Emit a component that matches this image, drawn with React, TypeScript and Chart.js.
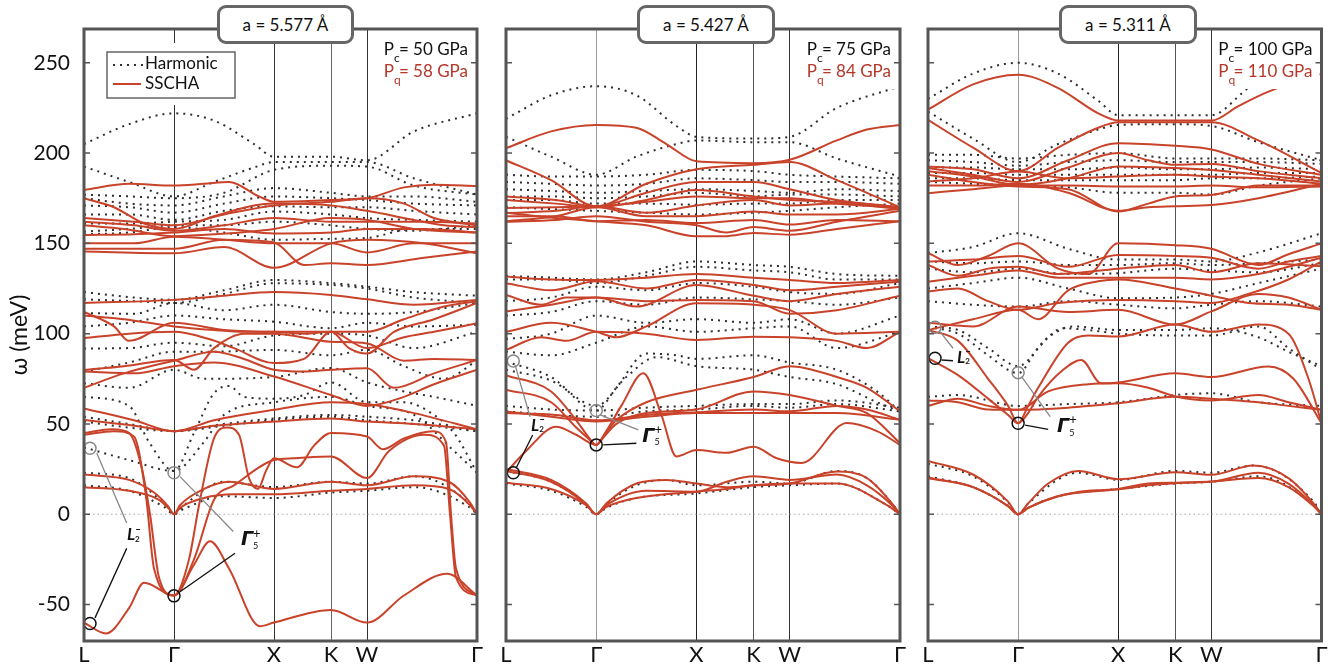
import React, { useEffect, useRef } from 'react';
import { Chart, registerables } from 'chart.js';
Chart.register(...registerables);

type Pt = [number, number];

const kPos = [0, 0.9, 1.9, 2.47, 2.83, 3.93];
const kLabels = ['L', 'Γ', 'X', 'K', 'W', 'Γ'];
const yTicks = [-50, 0, 50, 100, 150, 200, 250];
const yMin = -70.2;
const yMax = 268.7;

const latticeLabels = ['a = 5.577 Å', 'a = 5.427 Å', 'a = 5.311 Å'];
const pClassical = ['50', '75', '100'];
const pQuantum = ['58', '84', '110'];

// ---------------- Panel 1 (a = 5.577 Å) ----------------
const p1Sscha: Pt[][] = [
  [[0,179.6],[0.45,183],[0.9,182],[1.2,183],[1.45,184],[1.75,176],[1.9,173],[2.47,174],[2.83,175],[3.2,181],[3.5,182.5],[3.93,181.7]],
  [[0,175],[0.3,170],[0.6,161],[0.9,158],[1.3,165],[1.7,171],[1.9,172],[2.47,171],[2.83,168],[3.3,163],[3.6,160],[3.93,159]],
  [[0,164],[0.5,162],[0.9,160],[1.4,166],[1.9,171],[2.47,173],[2.83,175],[3.2,172],[3.5,164],[3.93,160]],
  [[0,162],[0.5,160],[0.9,157],[1.4,160],[1.9,164],[2.47,162],[2.83,162],[3.4,162],[3.93,161]],
  [[0,160],[0.4,158],[0.9,154],[1.3,155],[1.9,158],[2.47,164],[2.83,163],[3.3,158],[3.93,156]],
  [[0,154.6],[0.5,155],[0.9,156],[1.4,158],[1.9,155.5],[2.47,156],[2.83,158],[3.4,158],[3.93,156]],
  [[0,150],[0.5,150],[0.9,153.7],[1.4,152],[1.9,150],[2.47,150],[2.83,145],[3.3,150],[3.93,150]],
  [[0,145.5],[0.9,144.5],[1.4,148],[1.9,136.5],[2.47,150],[2.83,152],[3.4,150],[3.93,144.5]],
  [[0,147],[0.9,147],[1.4,152],[1.9,150.5],[2.2,138],[2.47,139],[2.83,138],[3.4,142],[3.93,145.5]],
  [[0,117],[0.9,118.7],[1.4,121],[1.9,123],[2.47,121.4],[2.83,119],[3.3,116],[3.93,118.7]],
  [[0,112],[0.3,104],[0.45,96],[0.9,106],[1.4,102],[1.9,101],[2.47,101],[2.83,101],[3.2,108],[3.6,115],[3.93,118]],
  [[0,110],[0.4,108],[0.9,104],[1.3,102],[1.6,101],[1.9,101],[2.2,100],[2.47,101],[2.83,92],[3.2,98],[3.5,101],[3.93,105.7]],
  [[0,97.5],[0.45,100],[0.9,101],[1.25,97],[1.5,92],[1.9,83.7],[2.2,86],[2.47,101],[2.65,92],[2.83,89],[3.1,101],[3.5,108],[3.93,117]],
  [[0,79.9],[0.4,82],[0.9,85.4],[1.1,80],[1.3,92],[1.6,100],[1.9,100],[2.47,95.5],[2.83,94.6],[3.2,85],[3.5,86],[3.93,85.4]],
  [[0,70],[0.4,78],[0.9,85],[1.3,90],[1.6,86],[1.9,80],[2.2,79],[2.47,80],[2.83,80.8],[3.1,70],[3.5,78],[3.93,85.4]],
  [[0,79],[0.5,78],[0.9,82],[1.3,84],[1.9,76.3],[2.47,66],[2.83,60],[3.2,65],[3.5,72],[3.93,80]],
  [[0,58.6],[0.5,52],[0.9,46],[1.3,52],[1.9,57.8],[2.47,62],[2.83,61],[3.3,56],[3.93,47]],
  [[0,52.2],[0.5,49],[0.9,46],[1.3,49],[1.9,51.3],[2.47,53],[2.83,51.3],[3.3,50],[3.93,47]],
  [[0,45],[0.28,47],[0.45,45],[0.58,25],[0.66,0],[0.75,-35],[0.9,-45],[1.05,-25],[1.15,5],[1.3,42],[1.43,48],[1.55,44],[1.65,20],[1.74,14],[1.82,24],[1.9,31],[2.13,26],[2.3,38],[2.47,45],[2.83,43],[2.99,36],[3.2,42],[3.49,46],[3.62,40],[3.67,0],[3.72,-30],[3.93,-45]],
  [[0,44],[0.3,46],[0.5,43],[0.62,10],[0.7,-30],[0.9,-45],[1.1,-25],[1.3,8],[1.5,16],[1.9,30],[2.1,31],[2.47,32],[2.83,20],[3.05,35],[3.4,44],[3.6,38],[3.66,0],[3.72,-35],[3.93,-45]],
  [[0,-60],[0.22,-66],[0.45,-52],[0.6,-38],[0.9,-45],[1.1,-28],[1.26,-15],[1.45,-30],[1.76,-62],[1.9,-60],[2.47,-53],[2.83,-60],[3.2,-45],[3.63,-33],[3.93,-45]],
  [[0,15],[0.45,13],[0.75,8],[0.85,3],[0.9,0],[0.96,3.5],[1.2,9],[1.5,11],[1.9,11],[2.47,13],[2.83,14],[3.3,16],[3.65,14],[3.86,5],[3.93,0]],
  [[0,22],[0.45,19],[0.7,12],[0.84,4.5],[0.9,0],[0.96,5],[1.2,14],[1.45,18],[1.9,14],[2.47,18],[2.83,16],[3.3,21],[3.65,18],[3.86,6.5],[3.93,0]],
];

const p1Harm: Pt[][] = [
  [[0,205],[0.45,216],[0.9,222],[1.3,218],[1.7,205],[1.9,198],[2.47,198],[2.83,196],[3.3,212],[3.93,222]],
  [[0,192.5],[0.45,184],[0.9,176],[1.3,184],[1.7,192],[1.9,195],[2.47,195],[2.83,195],[3.3,186],[3.93,177]],
  [[0,177],[0.45,176],[0.9,175],[1.4,178],[1.9,190.7],[2.47,193],[2.83,192.5],[3.3,182],[3.93,177]],
  [[0,175],[0.45,172],[0.9,171],[1.4,176],[1.9,180.6],[2.47,178],[2.83,176],[3.3,176],[3.93,173]],
  [[0,171],[0.45,170],[0.9,167],[1.4,172],[1.9,176],[2.47,175],[2.83,174],[3.3,172],[3.93,171]],
  [[0,166],[0.45,166],[0.9,163],[1.4,168],[1.9,170.5],[2.47,170],[2.83,170],[3.3,168],[3.93,166]],
  [[0,161],[0.45,161],[0.9,162],[1.4,163],[1.9,167.6],[2.47,166],[2.83,164],[3.3,163],[3.93,162]],
  [[0,156.5],[0.45,158],[0.9,160],[1.4,160],[1.9,162],[2.47,160],[2.83,158],[3.3,157],[3.93,160]],
  [[0,155],[0.45,156],[0.9,159],[1.4,156],[1.9,152],[2.47,152.5],[2.83,153],[3.3,158],[3.93,158]],
  [[0,123],[0.5,120],[0.9,118.7],[1.4,124],[1.9,129.7],[2.47,128],[2.83,126],[3.3,123],[3.93,121]],
  [[0,119],[0.5,118],[0.9,117],[1.4,122],[1.9,127.9],[2.47,127],[2.83,125],[3.3,120],[3.93,117]],
  [[0,111.4],[0.5,111],[0.9,117],[1.4,113],[1.9,116],[2.47,112],[2.83,111],[3.3,112],[3.93,117]],
  [[0,104],[0.45,106],[0.9,110],[1.4,108],[1.9,106.6],[2.47,103],[2.83,106],[3.3,104],[3.93,105]],
  [[0,91.8],[0.45,92],[0.9,95],[1.4,93],[1.9,99],[2.47,100],[2.83,99],[3.3,92],[3.93,101]],
  [[0,78.9],[0.45,84],[0.9,90],[1.3,90],[1.9,91],[2.47,88],[2.83,91],[3.2,82],[3.6,75],[3.93,85]],
  [[0,72.5],[0.45,70],[0.9,80],[1.2,75],[1.9,76],[2.47,81],[2.83,73],[3.2,68],[3.5,65],[3.93,60]],
  [[0,65],[0.45,60],[0.65,40],[0.9,24],[1.1,45],[1.3,67],[1.45,71],[1.6,65],[1.9,64],[2.2,66],[2.47,73],[2.83,62],[3.2,62],[3.5,55],[3.7,45],[3.93,23]],
  [[0,37],[0.45,30],[0.9,24],[1.2,40],[1.4,55],[1.9,62],[2.47,65],[2.83,60],[3.3,55],[3.7,35],[3.93,23]],
  [[0,54],[0.45,50],[0.9,46],[1.4,49],[1.9,52.2],[2.47,54],[2.83,52],[3.3,50],[3.93,46]],
  [[0,51.3],[0.45,48],[0.9,46],[1.4,50],[1.9,53],[2.47,55],[2.83,54],[3.3,52],[3.93,46]],
  [[0,23],[0.45,20],[0.8,6],[0.9,0],[1.0,5],[1.4,18],[1.9,15],[2.47,18],[2.83,17],[3.3,21],[3.85,6],[3.93,0]],
  [[0,16],[0.45,13],[0.8,4],[0.9,0],[1.0,3],[1.4,10],[1.9,9],[2.47,12],[2.83,13],[3.3,15],[3.85,4],[3.93,0]],
];

// ---------------- Panel 2 (a = 5.427 Å) ----------------
const p2Sscha: Pt[][] = [
  [[0,202.7],[0.45,212],[0.9,215.6],[1.3,214],[1.6,205],[1.9,195.4],[2.47,194.4],[2.83,196.3],[3.3,207],[3.6,213],[3.93,215.6]],
  [[0,196],[0.45,185],[0.9,170.5],[1.4,183],[1.9,191],[2.47,193.5],[2.83,195],[3.3,185],[3.93,170]],
  [[0,176],[0.5,174],[0.9,170.5],[1.4,178],[1.9,184],[2.47,184],[2.83,180],[3.3,174],[3.93,170]],
  [[0,174],[0.5,172],[0.9,170],[1.4,174],[1.9,179.6],[2.47,176],[2.83,174],[3.3,173],[3.93,170]],
  [[0,169.6],[0.5,170],[0.9,170.5],[1.4,173],[1.9,176],[2.47,175],[2.83,175],[3.3,172],[3.93,169.6]],
  [[0,166.8],[0.5,168],[0.9,170.5],[1.4,167],[1.9,171],[2.47,174],[2.83,171],[3.3,172],[3.93,169]],
  [[0,162.2],[0.5,165],[0.9,170],[1.4,165],[1.9,165],[2.47,167.7],[2.83,166],[3.3,166],[3.93,169]],
  [[0,165],[0.5,165],[0.9,162.2],[1.4,163],[1.9,161.3],[2.47,163],[2.83,160.4],[3.3,163],[3.93,162.2]],
  [[0,167],[0.5,164],[0.9,162.2],[1.4,160],[1.9,153.9],[2.2,154],[2.47,155.7],[2.83,154.8],[3.3,158],[3.93,162.2]],
  [[0,162],[0.5,163],[0.9,165],[1.4,162],[1.9,160],[2.2,156],[2.47,159],[2.83,157],[3.3,162],[3.93,168]],
  [[0,131.6],[0.45,130],[0.9,129.7],[1.4,131],[1.9,133],[2.47,131],[2.83,129.7],[3.3,128],[3.93,129.7]],
  [[0,127.9],[0.45,124],[0.9,129],[1.4,125],[1.9,129.7],[2.47,127],[2.83,124],[3.3,126],[3.93,128.8]],
  [[0,121.4],[0.35,116],[0.6,120],[0.9,120],[1.3,115],[1.9,126.9],[2.47,121],[2.83,118],[3.3,122],[3.93,126]],
  [[0,112.2],[0.45,116],[0.9,120],[1.4,118],[1.9,118.7],[2.47,118],[2.83,111],[3.3,113],[3.93,121]],
  [[0,101],[0.45,106],[0.9,101],[1.1,98],[1.4,104],[1.9,116.8],[2.47,116],[2.83,113],[3.3,100],[3.93,101]],
  [[0,91],[0.35,98],[0.6,96],[0.9,101],[1.4,100],[1.9,96.5],[2.47,98.3],[2.83,98],[3.3,96],[3.6,92],[3.93,101]],
  [[0,23],[0.2,35],[0.5,48.5],[0.7,44],[0.9,38.4],[1.0,46],[1.15,60],[1.37,78],[1.55,55],[1.7,32],[1.9,35.6],[2.2,34],[2.47,37.4],[2.7,31],[2.95,28.4],[3.4,50.5],[3.7,46],[3.93,38.4]],
  [[0,77],[0.45,68],[0.7,52],[0.82,43],[0.9,38.4],[0.98,44],[1.1,52],[1.4,62],[1.9,68.9],[2.47,76],[2.83,82],[3.3,76],[3.6,70],[3.93,57]],
  [[0,69],[0.45,62],[0.7,48],[0.82,42],[0.9,38.4],[0.98,43],[1.1,50],[1.4,56],[1.9,58],[2.47,68],[2.83,66],[3.3,60],[3.6,56],[3.93,39.4]],
  [[0,56.9],[0.45,54],[0.9,51.4],[1.4,54],[1.9,56],[2.47,56],[2.83,56],[3.3,56],[3.93,52.3]],
  [[0,56],[0.5,55],[0.9,52],[1.4,55],[1.9,56.5],[2.47,58],[2.83,57],[3.3,60],[3.6,58],[3.93,52.3]],
  [[0,17.5],[0.45,14],[0.8,5],[0.9,0],[1.0,4],[1.3,9],[1.9,12.5],[2.2,14],[2.47,16],[2.83,17],[3.3,17],[3.8,5],[3.93,0]],
  [[0,25],[0.45,19],[0.8,6],[0.9,0],[1.0,6],[1.3,17],[1.6,19],[1.9,17],[2.2,15],[2.47,16],[2.83,17],[3.3,23.6],[3.6,20],[3.85,6],[3.93,0]],
  [[0,24],[0.45,18],[0.8,5.5],[0.9,0],[1.0,5],[1.4,13],[1.9,12.5],[2.2,18],[2.47,21],[2.83,19],[3.3,22],[3.6,16],[3.85,5],[3.93,0]],
];

const p2Harm: Pt[][] = [
  [[0,219],[0.45,232],[0.9,237],[1.3,232],[1.7,215],[1.9,209],[2.47,208],[2.83,209],[3.3,225],[3.93,237]],
  [[0,209],[0.45,198],[0.9,188],[1.3,198],[1.7,205],[1.9,207],[2.47,206],[2.83,206],[3.3,197],[3.93,187]],
  [[0,188],[0.45,187],[0.9,187],[1.4,188],[1.9,190.7],[2.47,190],[2.83,188],[3.3,187],[3.93,186]],
  [[0,184],[0.45,183],[0.9,182],[1.4,183],[1.9,186],[2.47,185],[2.83,184],[3.3,184],[3.93,183]],
  [[0,180],[0.45,179],[0.9,178],[1.4,179],[1.9,180],[2.47,179],[2.83,178],[3.3,180],[3.93,179]],
  [[0,176],[0.45,176],[0.9,175],[1.4,176],[1.9,178],[2.47,176],[2.83,177],[3.3,177],[3.93,176]],
  [[0,174],[0.45,174],[0.9,172],[1.4,172],[1.9,171.4],[2.47,172],[2.83,172],[3.3,174],[3.93,174]],
  [[0,170],[0.45,169],[0.9,168],[1.4,167],[1.9,166],[2.47,167],[2.83,168],[3.3,170],[3.93,172]],
  [[0,132],[0.45,131],[0.9,130],[1.4,134],[1.9,140],[2.47,138],[2.83,137],[3.3,133],[3.93,132]],
  [[0,130],[0.45,130],[0.9,128],[1.4,132],[1.9,137],[2.47,135],[2.83,134],[3.3,130],[3.93,130]],
  [[0,118],[0.45,120],[0.9,126],[1.4,124],[1.9,128],[2.47,126],[2.83,123],[3.3,122],[3.93,128]],
  [[0,110],[0.45,112],[0.9,118],[1.4,116],[1.9,120],[2.47,119],[2.83,118],[3.3,116],[3.93,120]],
  [[0,97],[0.45,100],[0.9,110],[1.4,106],[1.9,108],[2.47,106],[2.83,108],[3.3,100],[3.93,110]],
  [[0,90],[0.45,88],[0.9,95],[1.4,104],[1.9,101],[2.47,103],[2.83,104],[3.3,92],[3.93,101]],
  [[0,84.5],[0.45,76],[0.9,57.4],[1.1,70],[1.4,89],[1.7,88],[1.9,86],[2.47,88],[2.83,84],[3.3,80],[3.7,68],[3.93,57]],
  [[0,80],[0.45,74],[0.9,60],[1.2,76],[1.5,87],[1.9,82],[2.47,80],[2.83,76],[3.3,72],[3.7,62],[3.93,57]],
  [[0,57],[0.45,55],[0.9,54],[1.4,57],[1.9,58],[2.47,60],[2.83,59],[3.3,61],[3.93,57]],
  [[0,60],[0.45,58],[0.9,57.4],[1.4,59],[1.9,60],[2.47,61],[2.83,61],[3.3,63],[3.93,59]],
  [[0,24],[0.45,18],[0.8,5.5],[0.9,0],[1.0,5.5],[1.3,16],[1.6,19],[1.9,16],[2.47,18],[2.83,17],[3.3,24],[3.6,20],[3.85,6],[3.93,0]],
  [[0,17],[0.45,13],[0.8,4],[0.9,0],[1.0,3.5],[1.3,9],[1.9,11.5],[2.47,15],[2.83,16],[3.3,17],[3.8,5],[3.93,0]],
];

// ---------------- Panel 3 (a = 5.311 Å) ----------------
const p3Sscha: Pt[][] = [
  [[0,224],[0.45,238],[0.9,243.3],[1.3,236],[1.7,222],[1.9,218],[2.47,218],[2.83,218],[3.1,226],[3.4,234],[3.93,244]],
  [[0,218.4],[0.45,203],[0.9,190],[1.3,203],[1.7,214],[1.9,217],[2.47,217],[2.83,217],[3.3,207],[3.93,189]],
  [[0,192.6],[0.45,191],[0.9,186],[1.4,196],[1.9,205.5],[2.47,204],[2.83,202],[3.3,194],[3.93,188]],
  [[0,191.7],[0.45,188],[0.9,184],[1.4,192],[1.9,200],[2.2,196],[2.47,193.5],[2.83,194],[3.3,190],[3.93,186]],
  [[0,190],[0.45,187],[0.9,182.4],[1.4,186],[1.9,192.6],[2.47,191.7],[2.83,190.6],[3.3,188],[3.93,184.3]],
  [[0,184.3],[0.45,186],[0.9,189.8],[1.4,186],[1.9,187],[2.47,188],[2.83,187],[3.3,186],[3.93,183]],
  [[0,177.8],[0.45,180],[0.9,182],[1.4,182],[1.9,181.5],[2.47,181.5],[2.83,182],[3.3,181],[3.93,181.5]],
  [[0,188],[0.45,184],[0.9,181.5],[1.4,180],[1.9,167.7],[2.2,172],[2.47,176],[2.83,176.8],[3.3,182],[3.93,182]],
  [[0,182],[0.45,182],[0.9,183],[1.4,178],[1.9,168],[2.2,170],[2.47,170.5],[2.83,171.2],[3.3,175],[3.93,183]],
  [[0,144.5],[0.3,138],[0.6,143],[0.9,150],[1.3,136],[1.6,133],[1.9,150],[2.47,149],[2.83,147],[3.3,138],[3.6,144],[3.93,150]],
  [[0,140],[0.45,141],[0.9,143],[1.4,137],[1.9,143.6],[2.47,143],[2.83,142],[3.3,136],[3.6,140],[3.93,143]],
  [[0,138],[0.3,132],[0.6,136],[0.9,137],[1.3,133],[1.9,136],[2.47,138],[2.83,134],[3.3,139],[3.93,137.3]],
  [[0,128.8],[0.45,132],[0.9,135],[1.3,131],[1.9,131],[2.47,131],[2.83,130],[3.3,133],[3.93,142]],
  [[0,123.3],[0.3,125],[0.6,118],[0.9,113.2],[1.3,117],[1.9,118.7],[2.47,118],[2.83,117],[3.2,122],[3.6,130],[3.93,140]],
  [[0,102],[0.45,108],[0.9,113.2],[1.1,108],[1.4,124],[1.7,129],[1.9,130],[2.47,125],[2.83,121],[3.2,117],[3.6,116],[3.93,113.2]],
  [[0,106],[0.45,104],[0.9,115],[1.4,112],[1.9,113.2],[2.47,105],[2.83,112.3],[3.3,122],[3.6,120],[3.93,113.2]],
  [[0,86.4],[0.3,77],[0.6,64],[0.8,55],[0.9,50.4],[1.0,56],[1.1,65],[1.35,80],[1.53,85.4],[1.73,72.5],[1.9,73],[2.47,78],[2.83,76],[3.4,81.8],[3.65,75],[3.93,50.4]],
  [[0,102],[0.3,96],[0.6,75],[0.8,60],[0.9,50.4],[1.0,60],[1.1,70],[1.4,95],[1.6,99],[1.9,98.4],[2.47,105],[2.83,101],[3.3,105],[3.6,100],[3.8,75],[3.93,50.4]],
  [[0,63],[0.3,62],[0.6,58],[0.9,57.8],[1.2,68],[1.6,72],[1.9,72.5],[2.2,70],[2.47,65.2],[2.83,63],[3.3,66],[3.6,62],[3.93,57.8]],
  [[0,60],[0.3,64],[0.6,60],[0.9,57.8],[1.4,59],[1.9,61.5],[2.47,65],[2.83,64],[3.3,62],[3.6,60],[3.93,57.8]],
  [[0,20.3],[0.45,15],[0.8,4.5],[0.9,0],[1.0,3.5],[1.3,10],[1.6,13],[1.9,13.8],[2.2,16],[2.47,17.2],[2.83,18.1],[3.3,20],[3.6,15],[3.85,4.5],[3.93,0]],
  [[0,29.5],[0.45,22],[0.8,7],[0.9,0],[1.0,6],[1.2,17],[1.5,24],[1.9,19.4],[2.47,23.3],[2.83,21.8],[3.25,27],[3.6,20],[3.85,6],[3.93,0]],
  [[0,20],[0.45,15],[0.8,4.5],[0.9,0],[1.0,3.5],[1.3,10],[1.9,14],[2.2,17],[2.47,17.5],[2.83,18],[3.3,23],[3.6,17],[3.85,5],[3.93,0]],
];

const p3Harm: Pt[][] = [
  [[0,230],[0.45,244],[0.9,250],[1.3,244],[1.7,229],[1.9,221],[2.47,221],[2.83,221],[3.2,236],[3.6,248],[3.93,252]],
  [[0,223],[0.45,208],[0.9,195],[1.3,205],[1.7,213],[1.9,215.6],[2.47,216],[2.83,215],[3.3,206],[3.93,196]],
  [[0,199],[0.45,199],[0.9,197],[1.4,199],[1.9,200],[2.47,197],[2.83,197],[3.3,197],[3.93,196]],
  [[0,196],[0.45,195],[0.9,193],[1.4,195],[1.9,196],[2.47,195],[2.83,195],[3.3,195],[3.93,194]],
  [[0,192],[0.45,192],[0.9,191],[1.4,191],[1.9,192],[2.47,191],[2.83,191],[3.3,192],[3.93,191]],
  [[0,189],[0.45,189],[0.9,188],[1.4,188],[1.9,188],[2.47,188],[2.83,188],[3.3,189],[3.93,189]],
  [[0,186],[0.45,186],[0.9,185],[1.4,185],[1.9,185],[2.47,185],[2.83,186],[3.3,186],[3.93,187]],
  [[0,184],[0.45,183],[0.9,182],[1.4,181],[1.9,178],[2.47,178],[2.83,177],[3.3,182],[3.93,186]],
  [[0,144.6],[0.45,148],[0.9,155.6],[1.4,147],[1.9,141],[2.47,141],[2.83,140],[3.3,145],[3.93,155.6]],
  [[0,140],[0.45,139],[0.9,140],[1.4,138],[1.9,138],[2.47,139],[2.83,138],[3.3,139],[3.93,141]],
  [[0,136],[0.45,134],[0.9,136],[1.4,133],[1.9,133.5],[2.47,136],[2.83,135],[3.3,134],[3.93,139]],
  [[0,125],[0.45,128],[0.9,131],[1.4,125],[1.9,119.6],[2.47,120],[2.83,122],[3.3,128],[3.93,136]],
  [[0,118],[0.45,116],[0.9,115],[1.4,118],[1.9,116],[2.47,114],[2.83,116],[3.3,118],[3.93,115]],
  [[0,103.6],[0.3,100],[0.6,88],[0.9,78.1],[1.1,92],[1.35,103],[1.6,102],[1.9,100],[2.47,99],[2.83,99],[3.3,104],[3.6,92],[3.93,80]],
  [[0,104],[0.3,102],[0.6,92],[0.9,82],[1.2,98],[1.45,104],[1.9,102],[2.47,102],[2.83,103],[3.3,98],[3.6,90],[3.93,82]],
  [[0,65],[0.3,66],[0.9,60],[1.4,61],[1.9,62],[2.47,66],[2.83,67],[3.3,62],[3.93,60]],
  [[0,21],[0.45,15],[0.8,4.5],[0.9,0],[1.0,3.5],[1.3,10],[1.9,14],[2.47,17],[2.83,18],[3.3,21],[3.85,5],[3.93,0]],
  [[0,28],[0.45,21],[0.8,6.5],[0.9,0],[1.0,6],[1.5,23],[1.9,19],[2.47,24],[2.83,23],[3.25,27],[3.85,7],[3.93,0]],
];

// ---------------- annotation markers (data coordinates) ----------------
const p1Circles: number[][] = [[0.06,36.5,1],[0.06,-60.5,0],[0.9,23,1],[0.9,-45.2,0]];
const p2Circles: number[][] = [[0.073,84.9,1],[0.073,23,0],[0.9,57.4,1],[0.9,38.4,0]];
const p3Circles: number[][] = [[0.07,103.5,1],[0.07,86.4,0],[0.9,78.4,1],[0.9,50.4,0]];
const p1Leaders: number[][] = [[0.127,33.9,0.427,-4.8,1],[0.427,-18.9,0.11,-57.4,0],[0.96,20.8,1.493,-9.6,1],[0.96,-42.9,1.51,-21.6,0]];
const p2Leaders: number[][] = [[0.09,82.7,0.24,54,1],[0.266,43.9,0.1,25.5,0],[0.94,55,1.32,46.7,1],[0.97,38.4,1.3,39.3,0]];
const p3Leaders: number[][] = [[0.12,101.1,0.25,91.9,1],[0.137,85.4,0.25,85,0],[0.935,76.2,1.22,54,1],[0.97,49.4,1.2,47,0]];
const p1Tags: number[][] = [[0.47,-11.5],[1.63,-14.5]];
const p2Tags: number[][] = [[0.29,49.4],[1.42,43]];
const p3Tags: number[][] = [[0.33,87],[1.35,48.5]];

const RED = '#c9432b';
const RED_TEXT = '#b5372a';
const FAM = 'Lato, "DejaVu Sans", sans-serif';

const p1Grid = ['#555', '#333', '#333', '#666', '#333', '#555'];
const p23Grid = ['#555', '#999', '#222', '#555', '#333', '#555'];

function buildDatasets(sscha: Pt[][], harm: Pt[][]) {
  const red = sscha.map((b) => ({
    data: b.map(([x, y]) => ({ x, y })),
    showLine: true,
    borderColor: RED,
    borderWidth: 2,
    pointRadius: 0,
    cubicInterpolationMode: 'monotone' as const,
    fill: false,
  }));
  const dots = harm.map((b) => ({
    data: b.map(([x, y]) => ({ x, y })),
    showLine: true,
    borderColor: '#2e2e2e',
    borderWidth: 2,
    borderDash: [2, 5],
    pointRadius: 0,
    cubicInterpolationMode: 'monotone' as const,
    fill: false,
  }));
  return [...red, ...dots];
}

function drawTag(ctx: CanvasRenderingContext2D, kind: number, px: number, py: number) {
  ctx.fillStyle = '#111';
  ctx.textBaseline = 'middle';
  ctx.textAlign = 'left';
  if (kind === 0) {
    ctx.font = `italic bold 17px ${FAM}`;
    const w = ctx.measureText('L').width;
    ctx.fillText('L', px - w / 2, py);
    ctx.font = `bold 8px ${FAM}`;
    ctx.fillText('2', px + w / 2, py + 4);
    ctx.fillRect(px + w / 2 + 1, py - 6, 4, 1);
  } else {
    ctx.font = `italic bold 19px "DejaVu Sans", sans-serif`;
    const w = ctx.measureText('Γ').width;
    ctx.fillText('Γ', px - w / 2, py);
    ctx.font = `9px ${FAM}`;
    ctx.fillText('5', px + w / 2, py + 6);
    ctx.font = `13px ${FAM}`;
    ctx.fillText('+', px + w / 2, py - 7);
  }
}

function makeDeco(idx: number, circles: number[][], leaders: number[][], tags: number[][]) {
  return {
    id: 'deco' + idx,
    beforeDatasetsDraw(chart: any) {
      const { ctx, chartArea: a, scales } = chart;
      const y0 = scales.y.getPixelForValue(0);
      ctx.save();
      ctx.strokeStyle = '#aaa';
      ctx.lineWidth = 1;
      ctx.setLineDash([1.5, 3]);
      ctx.beginPath();
      ctx.moveTo(a.left, y0);
      ctx.lineTo(a.right, y0);
      ctx.stroke();
      ctx.restore();
    },
    afterDatasetsDraw(chart: any) {
      const { ctx, chartArea: a, scales } = chart;
      const sx = (v: number) => scales.x.getPixelForValue(v);
      const sy = (v: number) => scales.y.getPixelForValue(v);
      ctx.save();
      leaders.forEach(([x1, y1, x2, y2, g]) => {
        ctx.strokeStyle = g ? '#888' : '#111';
        ctx.lineWidth = 1.3;
        ctx.beginPath();
        ctx.moveTo(sx(x1), sy(y1));
        ctx.lineTo(sx(x2), sy(y2));
        ctx.stroke();
      });
      circles.forEach(([x, y, g]) => {
        ctx.strokeStyle = g ? '#888' : '#111';
        ctx.lineWidth = 1.5;
        ctx.beginPath();
        ctx.arc(sx(x), sy(y), 6, 0, Math.PI * 2);
        ctx.stroke();
      });
      tags.forEach(([x, y], k) => drawTag(ctx, k, sx(x), sy(y)));

      const pc = pClassical[idx];
      const pq = pQuantum[idx];
      ctx.font = `17px ${FAM}`;
      const wP = ctx.measureText('P').width;
      const r1 = '= ' + pc + ' GPa';
      const r2 = '= ' + pq + ' GPa';
      const wr = Math.max(ctx.measureText(r1).width, ctx.measureText(r2).width);
      const gap = 5;
      const x0 = a.right - 9 - (wP + gap + wr);
      ctx.fillStyle = '#fff';
      ctx.fillRect(x0 - 4, a.top + 8, a.right - 2 - (x0 - 4), 52);
      const rows = [
        { s: 'c', r: r1, col: '#111', y: a.top + 21 },
        { s: 'q', r: r2, col: RED_TEXT, y: a.top + 43 },
      ];
      rows.forEach((row) => {
        ctx.fillStyle = row.col;
        ctx.textBaseline = 'middle';
        ctx.textAlign = 'left';
        ctx.font = `17px ${FAM}`;
        ctx.fillText('P', x0, row.y);
        ctx.fillText(row.r, x0 + wP + gap, row.y);
        ctx.font = `12px ${FAM}`;
        ctx.fillText(row.s, x0 + wP, row.y + 8);
      });

      if (idx === 0) {
        const lx = a.left + 23;
        const ly = a.top + 23;
        ctx.fillStyle = '#fff';
        ctx.fillRect(lx - 6, ly - 9, 140, 62);
        ctx.strokeStyle = '#666';
        ctx.lineWidth = 1.5;
        ctx.strokeRect(lx, ly, 128, 46);
        ctx.strokeStyle = '#2e2e2e';
        ctx.lineWidth = 2;
        ctx.setLineDash([2, 5]);
        ctx.beginPath();
        ctx.moveTo(lx + 6, ly + 13);
        ctx.lineTo(lx + 36, ly + 13);
        ctx.stroke();
        ctx.setLineDash([]);
        ctx.strokeStyle = RED;
        ctx.beginPath();
        ctx.moveTo(lx + 6, ly + 32);
        ctx.lineTo(lx + 34, ly + 32);
        ctx.stroke();
        ctx.fillStyle = '#111';
        ctx.font = `17px ${FAM}`;
        ctx.textBaseline = 'middle';
        ctx.fillText('Harmonic', lx + 38, ly + 12);
        ctx.fillText('SSCHA', lx + 38, ly + 32);
      }

      ctx.strokeStyle = '#555';
      ctx.lineWidth = 1.5;
      ctx.setLineDash([]);
      yTicks.forEach((v) => {
        const py = sy(v);
        ctx.beginPath();
        ctx.moveTo(a.left, py);
        ctx.lineTo(a.left + 6, py);
        ctx.moveTo(a.right - 6, py);
        ctx.lineTo(a.right, py);
        ctx.stroke();
      });

      ctx.strokeStyle = '#555';
      ctx.lineWidth = 3;
      ctx.strokeRect(a.left, a.top, a.right - a.left, a.bottom - a.top);
      ctx.restore();
    },
  };
}

type PanelCfg = {
  left: number; width: number; padL: number; padR: number;
  sscha: Pt[][]; harm: Pt[][]; circles: number[][]; leaders: number[][]; tags: number[][];
  grid: string[];
};

const panelCfgs: PanelCfg[] = [
  { left: 0, width: 495, padL: 0, padR: 18, sscha: p1Sscha, harm: p1Harm, circles: p1Circles, leaders: p1Leaders, tags: p1Tags, grid: p1Grid },
  { left: 488, width: 427, padL: 18, padR: 15, sscha: p2Sscha, harm: p2Harm, circles: p2Circles, leaders: p2Leaders, tags: p2Tags, grid: p23Grid },
  { left: 910, width: 423, padL: 18, padR: 11.5, sscha: p3Sscha, harm: p3Harm, circles: p3Circles, leaders: p3Leaders, tags: p3Tags, grid: p23Grid },
];

const titleBoxes = [
  { left: 217, width: 137 },
  { left: 637, width: 138 },
  { left: 1059, width: 138 },
];

function Panel({ idx }: { idx: number }) {
  const ref = useRef<HTMLCanvasElement>(null);
  const cfg = panelCfgs[idx];
  useEffect(() => {
    if (!ref.current) return;
    const showY = idx === 0;
    const chart = new Chart(ref.current, {
      type: 'scatter',
      data: { datasets: buildDatasets(cfg.sscha, cfg.harm) as any },
      options: {
        animation: false,
        responsive: false,
        maintainAspectRatio: false,
        layout: { padding: { left: cfg.padL, right: cfg.padR, top: 29, bottom: 0 } },
        plugins: { legend: { display: false }, tooltip: { enabled: false } },
        scales: {
          x: {
            type: 'linear',
            min: 0,
            max: 3.93,
            afterBuildTicks: (s: any) => { s.ticks = kPos.map((v) => ({ value: v })); },
            afterFit: (s: any) => { s.height = 24; },
            ticks: {
              callback: (_v: any, i: number) => kLabels[i],
              font: { size: 22, family: FAM },
              color: '#111',
              padding: 1,
              autoSkip: false,
              maxRotation: 0,
            },
            grid: {
              color: (c: any) => cfg.grid[c.index] || '#333',
              lineWidth: 1,
              drawTicks: false,
            },
            border: { display: false },
          },
          y: {
            type: 'linear',
            min: yMin,
            max: yMax,
            display: showY,
            afterBuildTicks: (s: any) => { s.ticks = yTicks.map((v) => ({ value: v })); },
            afterFit: (s: any) => { s.width = showY ? 84 : 0; },
            ticks: { font: { size: 21, family: FAM }, color: '#111', padding: 6 },
            grid: { display: false },
            border: { display: false },
            title: { display: true, text: 'ω (meV)', font: { size: 23, family: FAM }, color: '#111', padding: { top: 6, bottom: 0 } },
          },
        },
      },
      plugins: [makeDeco(idx, cfg.circles, cfg.leaders, cfg.tags)],
    } as any);
    return () => chart.destroy();
  }, []);
  return (
    <canvas
      ref={ref}
      width={cfg.width}
      height={665}
      style={{ position: 'absolute', left: cfg.left, top: 0, width: cfg.width, height: 665 }}
    />
  );
}

export default function App() {
  return (
    <div style={{ position: 'fixed', left: 0, top: 0, width: 1333, height: 665, background: '#fff', overflow: 'hidden' }}>
      {[0, 1, 2].map((i) => <Panel key={i} idx={i} />)}
      {titleBoxes.map((b, i) => (
        <div
          key={'t' + i}
          style={{
            position: 'absolute', left: b.left, top: 5, width: b.width, height: 39,
            boxSizing: 'border-box', border: '3px solid #666', borderRadius: 9, background: '#fff',
            display: 'flex', alignItems: 'center', justifyContent: 'center',
            fontFamily: FAM, fontSize: 17, color: '#111',
          }}
        >
          {latticeLabels[i]}
        </div>
      ))}
    </div>
  );
}
